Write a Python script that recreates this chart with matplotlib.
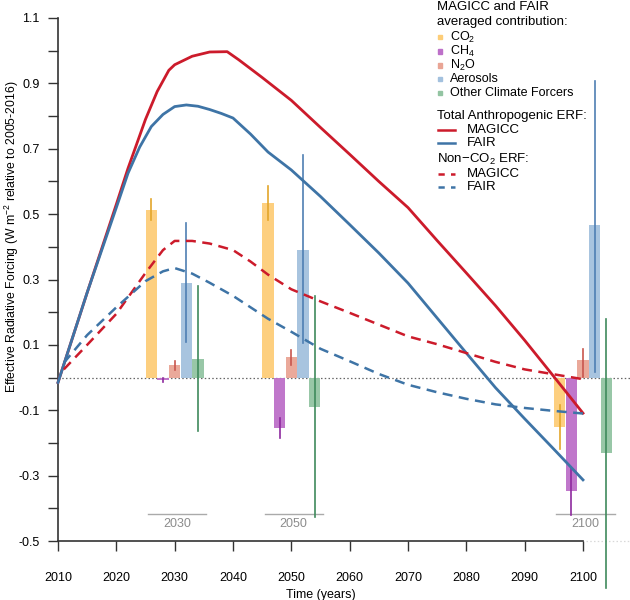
import numpy as np
import matplotlib
matplotlib.use("Agg")
import matplotlib.pyplot as plt
from matplotlib.lines import Line2D
from matplotlib.patches import Rectangle

plt.rcParams['font.family'] = ['Liberation Sans', 'DejaVu Sans']
plt.rcParams['mathtext.fontset'] = 'custom'
plt.rcParams['mathtext.rm'] = 'Liberation Sans'
plt.rcParams['mathtext.it'] = 'Liberation Sans'
plt.rcParams['mathtext.bf'] = 'Liberation Sans'
plt.rcParams['axes.unicode_minus'] = False

# total anthropogenic ERF
years_mag = [2010, 2015, 2020, 2022, 2025, 2027, 2029, 2030, 2033, 2036, 2039,
             2041, 2045, 2050, 2055, 2060, 2065, 2070, 2075, 2080, 2085, 2090, 2095, 2100]
magicc_total = [-0.015, 0.26, 0.53, 0.64, 0.79, 0.875, 0.94, 0.957, 0.983, 0.996, 0.997,
                0.972, 0.918, 0.848, 0.765, 0.683, 0.60, 0.52, 0.419, 0.32, 0.22,
                0.114, 0.003, -0.109]
years_fair = [2010, 2015, 2020, 2022, 2024, 2026, 2028, 2030, 2032, 2034, 2036, 2038,
              2040, 2043, 2046, 2050, 2055, 2060, 2065, 2070, 2075, 2080, 2085, 2090,
              2095, 2100]
fair_total = [-0.015, 0.26, 0.52, 0.625, 0.705, 0.768, 0.805, 0.829, 0.834, 0.830,
              0.820, 0.808, 0.794, 0.745, 0.69, 0.635, 0.554, 0.468, 0.381, 0.289,
              0.182, 0.075, -0.031, -0.126, -0.219, -0.313]

# non-CO2 ERF
years_nc = [2011, 2015, 2020, 2025, 2028, 2030, 2033, 2036, 2040, 2043, 2046, 2050,
            2055, 2060, 2065, 2070, 2075, 2080, 2085, 2090, 2095, 2100]
magicc_nonco2 = [0.025, 0.10, 0.195, 0.32, 0.39, 0.418, 0.418, 0.41, 0.39, 0.355, 0.315,
                 0.27, 0.233, 0.198, 0.162, 0.126, 0.102, 0.075, 0.048, 0.025, 0.01, -0.005]
fair_nonco2 = [0.045, 0.13, 0.215, 0.295, 0.325, 0.335, 0.318, 0.29, 0.25, 0.215, 0.18,
               0.14, 0.088, 0.05, 0.011, -0.022, -0.045, -0.065, -0.082, -0.093,
               -0.102, -0.11]

# averaged contributions per forcer, groups 2030 / 2050 / 2100
groups = [2030, 2050, 2100]
forcers = ["CO$_2$", "CH$_4$", "N$_2$O", "Aerosols", "Other Climate Forcers"]
contrib = {
    "CO2":      [0.513, 0.535, -0.150],
    "CH4":      [-0.006, -0.155, -0.347],
    "N2O":      [0.038, 0.062, 0.054],
    "Aerosols": [0.290, 0.390, 0.467],
    "Other":    [0.058, -0.089, -0.232],
}
err_lo = {
    "CO2":      [0.482, 0.482, -0.220],
    "CH4":      [-0.014, -0.186, -0.420],
    "N2O":      [0.023, 0.039, 0.003],
    "Aerosols": [0.108, 0.105, 0.018],
    "Other":    [-0.163, -0.426, -0.644],
}
err_hi = {
    "CO2":      [0.546, 0.586, -0.084],
    "CH4":      [-0.002, -0.125, -0.273],
    "N2O":      [0.050, 0.085, 0.087],
    "Aerosols": [0.474, 0.681, 0.906],
    "Other":    [0.280, 0.248, 0.180],
}

bar_cols = ["#FDCD78", "#BD70C9", "#E9A595", "#A3C1DE", "#93C4A2"]
err_cols = ["#E3A62A", "#8E2A9E", "#C8564E", "#4F7FB3", "#3F8A5C"]
red = "#CC1B2B"
blue = "#3E74A6"

fig = plt.figure(figsize=(6.3, 6.0), dpi=100)
ax = fig.add_axes([58 / 630, 59 / 600, 525 / 630, 523 / 600])

# zero line, runs past the axes
ax.plot([2010, 2118], [0, 0], ls=(0, (1.2, 1.8)), color="#666666", lw=0.9,
        clip_on=False, zorder=1)
ax.plot([2100.5, 2118], [-0.5, -0.5], ls=(0, (1.2, 1.8)), color="#d8d8d8", lw=0.9,
        clip_on=False, zorder=1)

keys = list(contrib.keys())
offsets = [-4, -2, 0, 2, 4]
for gi, g in enumerate(groups):
    for k, key in enumerate(keys):
        xc = g + offsets[k]
        ax.bar(xc, contrib[key][gi], width=2, color=bar_cols[k], alpha=0.95,
               clip_on=False, zorder=2)
        ax.plot([xc, xc], [err_lo[key][gi], err_hi[key][gi]], color=err_cols[k],
                lw=1.2, clip_on=False, zorder=3)
    ax.plot([g - 4.6, g + 5.4], [-0.4175, -0.4175], color="#aaaaaa", lw=1.0,
            clip_on=False, zorder=2)
    ax.text(g + 0.4, -0.447, str(g), color="#8c8c8c", fontsize=9,
            ha="center", va="center")

ax.plot(years_mag, magicc_total, color=red, lw=2.0, clip_on=False, zorder=4)
ax.plot(years_fair, fair_total, color=blue, lw=2.0, clip_on=False, zorder=4)
ax.plot(years_nc, magicc_nonco2, color=red, lw=1.8, ls=(0, (4, 2.6)),
        clip_on=False, zorder=4)
ax.plot(years_nc, fair_nonco2, color=blue, lw=1.8, ls=(0, (4, 2.6)),
        clip_on=False, zorder=4)

ax.set_xlim(2010, 2100)
ax.set_ylim(-0.5, 1.1)
ax.set_xticks(np.arange(2010, 2101, 10))
ax.set_yticks(np.arange(-0.5, 1.11, 0.2))
ax.set_yticks(np.arange(-0.4, 1.01, 0.2), minor=True)
ax.set_yticklabels(["%.1f" % v for v in np.arange(-0.5, 1.11, 0.2)])
ax.tick_params(axis="both", which="both", direction="out", length=7.2,
               width=1.0, labelsize=9, color="#333333")
ax.tick_params(axis="x", pad=15)
ax.tick_params(axis="y", pad=6)
for s in ["top", "right"]:
    ax.spines[s].set_visible(False)
for s in ["left", "bottom"]:
    ax.spines[s].set_linewidth(1.2)
    ax.spines[s].set_color("#333333")

ax.set_xlabel("Time (years)", fontsize=9, labelpad=4)
ax.set_ylabel("Effective Radiative Forcing (W m$^{-2}$ relative to 2005-2016)",
              fontsize=8.8)
ax.yaxis.set_label_coords(-0.071, (541 - 237) / 523)

# legend, placed in pixel positions of the figure
def fx(px):
    return px / 630


def fy(py):
    return 1 - py / 600


fig.text(fx(437), fy(7), "MAGICC and FAIR", fontsize=9.5, va="center", ha="left")
fig.text(fx(437), fy(22), "averaged contribution:", fontsize=9.5, va="center", ha="left")
ys = [37, 51.5, 65.5, 79, 92.7]
for k in range(5):
    fig.patches.append(Rectangle((fx(438), fy(ys[k]) - 2 / 600), 4 / 630, 4 / 600,
                                 transform=fig.transFigure, color=bar_cols[k]))
    fig.text(fx(450), fy(ys[k]), forcers[k], fontsize=9, va="center", ha="left")

fig.text(fx(437), fy(116.5), "Total Anthropogenic ERF:", fontsize=9.5, va="center", ha="left")
fig.text(fx(437), fy(159), "Non\u2212CO$_2$ ERF:", fontsize=9.5, va="center", ha="left")
leg_lines = [(130, red, "-", "MAGICC"), (143.3, blue, "-", "FAIR"),
             (174, red, (0, (2.5, 2.5)), "MAGICC"), (186.5, blue, (0, (2.5, 2.5)), "FAIR")]
for yy, c, ls, lab in leg_lines:
    fig.lines.append(Line2D([fx(438), fx(455)], [fy(yy), fy(yy)], color=c, lw=1.8,
                            ls=ls, transform=fig.transFigure))
    fig.text(fx(467), fy(yy), lab, fontsize=9.5, va="center", ha="left")

fig.savefig("out.png", dpi=100)
